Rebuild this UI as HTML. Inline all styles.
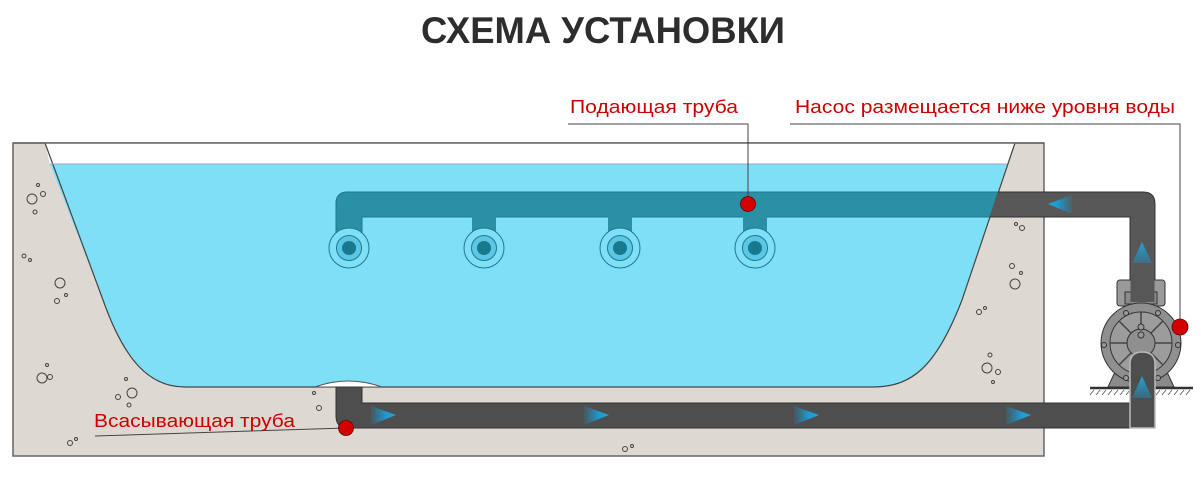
<!DOCTYPE html>
<html><head><meta charset="utf-8"><style>
html,body{margin:0;padding:0;background:#fff;}
svg{display:block;}
text{font-family:"Liberation Sans",sans-serif;}
</style></head><body>
<svg width="1201" height="479" viewBox="0 0 1201 479" xmlns="http://www.w3.org/2000/svg">
<defs>
<linearGradient id="ar" x1="0" x2="1" y1="0" y2="0"><stop offset="0" stop-color="#1e8fc0" stop-opacity="0.15"/><stop offset="0.6" stop-color="#1e9ad0"/><stop offset="1" stop-color="#22a6dc"/></linearGradient>
<linearGradient id="al" x1="1" x2="0" y1="0" y2="0"><stop offset="0" stop-color="#1e8fc0" stop-opacity="0.15"/><stop offset="0.6" stop-color="#1e9ad0"/><stop offset="1" stop-color="#22a6dc"/></linearGradient>
<linearGradient id="au" x1="0" x2="0" y1="1" y2="0"><stop offset="0" stop-color="#1e8fc0" stop-opacity="0.4"/><stop offset="1" stop-color="#22a6dc"/></linearGradient>
<clipPath id="wc"><path d="M50,164 L1007,164 L962,300 C935,370 910,387 872,387 L185,387 C150,387 125,362 103,300 Z"/></clipPath>
</defs>
<text x="603" y="43" font-size="37" font-weight="bold" fill="#2d2d2d" text-anchor="middle" textLength="364" lengthAdjust="spacingAndGlyphs">СХЕМА УСТАНОВКИ</text>

<rect x="13" y="143" width="1031" height="313" fill="#ddd9d2" stroke="#666" stroke-width="1.5"/>
<path d="M45,143 L1015,143 L1007,164 L50,164 Z" fill="#fff"/>
<path d="M50,164 L1007,164 L962,300 C935,370 910,387 872,387 L185,387 C150,387 125,362 103,300 Z" fill="#7fdff7"/>
<path d="M45,143 L103,300 C125,362 150,387 185,387 L872,387 C910,387 935,370 962,300 L1015,143" fill="none" stroke="#444" stroke-width="1.2"/>
<line x1="50" y1="164" x2="1007" y2="164" stroke="#9ab" stroke-width="1"/>
<line x1="13" y1="143" x2="1044" y2="143" stroke="#666" stroke-width="1.5"/>
<path d="M315,387 Q348,375 382,387 Z" fill="#fff" stroke="#555" stroke-width="1"/>

<g fill="none" stroke="#444" stroke-width="1">
<circle cx="32" cy="199" r="5"/><circle cx="43" cy="194" r="2.5"/><circle cx="38" cy="185" r="1.5"/><circle cx="35" cy="212" r="2"/>
<circle cx="24" cy="256" r="2"/><circle cx="30" cy="260" r="1.5"/>
<circle cx="60" cy="283" r="5"/><circle cx="57" cy="301" r="2.5"/><circle cx="66" cy="295" r="1.5"/>
<circle cx="42" cy="378" r="5"/><circle cx="50" cy="377" r="2.5"/><circle cx="47" cy="365" r="1.5"/>
<circle cx="132" cy="393" r="5"/><circle cx="118" cy="397" r="2.5"/><circle cx="129" cy="405" r="2"/><circle cx="126" cy="379" r="1.5"/>
<circle cx="70" cy="443" r="2.5"/><circle cx="76" cy="439" r="1.5"/>
<circle cx="319" cy="408" r="2.5"/><circle cx="314" cy="393" r="1.5"/>
<circle cx="1016" cy="224" r="1.5"/><circle cx="1022" cy="228" r="2.5"/>
<circle cx="1012" cy="266" r="2.5"/><circle cx="1021" cy="273" r="1.5"/><circle cx="1015" cy="284" r="5"/>
<circle cx="979" cy="312" r="2.5"/><circle cx="985" cy="308" r="1.5"/>
<circle cx="990" cy="355" r="2"/><circle cx="987" cy="368" r="5"/><circle cx="998" cy="372" r="2.5"/><circle cx="993" cy="382" r="1.5"/>
<circle cx="625" cy="449" r="2.5"/><circle cx="632" cy="446" r="1.5"/>
</g>

<g>
<path d="M336,225 L336,204 Q336,192 348,192 L1143,192 Q1155,192 1155,204 L1155,300 L1130,300 L1130,217 L362,217 L362,225 Z" fill="#575757" stroke="#333" stroke-width="1"/>
<rect x="472" y="215" width="24" height="15" fill="#575757"/>
<rect x="608" y="215" width="24" height="15" fill="#575757"/>
<rect x="743" y="215" width="24" height="15" fill="#575757"/>
<path d="M336,387 L362,387 L362,403 L1130,403 L1130,360 L1155,360 L1155,416 Q1155,428 1143,428 L348,428 Q336,428 336,416 Z" fill="#4e4e4e" stroke="#333" stroke-width="1"/>
</g>
<g clip-path="url(#wc)">
<path d="M336,240 L336,204 Q336,192 348,192 L1143,192 Q1155,192 1155,204 L1155,300 L1130,300 L1130,217 L362,217 L362,240 Z" fill="#2a90a6" stroke="#21798c" stroke-width="1"/>
<rect x="472" y="216" width="24" height="18" fill="#2a90a6"/>
<rect x="608" y="216" width="24" height="18" fill="#2a90a6"/>
<rect x="743" y="216" width="24" height="18" fill="#2a90a6"/>
</g>
<g>
<g transform="translate(349,248)"><circle r="20" fill="#7fdff7" stroke="#21798c"/><circle r="12.5" fill="#5cc7e4" stroke="#21798c"/><circle r="7" fill="#17788e"/></g>
<g transform="translate(484,248)"><circle r="20" fill="#7fdff7" stroke="#21798c"/><circle r="12.5" fill="#5cc7e4" stroke="#21798c"/><circle r="7" fill="#17788e"/></g>
<g transform="translate(620,248)"><circle r="20" fill="#7fdff7" stroke="#21798c"/><circle r="12.5" fill="#5cc7e4" stroke="#21798c"/><circle r="7" fill="#17788e"/></g>
<g transform="translate(755,248)"><circle r="20" fill="#7fdff7" stroke="#21798c"/><circle r="12.5" fill="#5cc7e4" stroke="#21798c"/><circle r="7" fill="#17788e"/></g>
</g>

<g stroke="#333" stroke-width="1">
<line x1="1090" y1="388" x2="1193" y2="388" stroke-width="2.5"/>
<g stroke-width="0.8" stroke="#555">
<path d="M1094,390l-4,5M1100,390l-4,5M1106,390l-4,5M1112,390l-4,5M1118,390l-4,5M1124,390l-4,5M1130,390l-4,5M1160,390l-4,5M1166,390l-4,5M1172,390l-4,5M1178,390l-4,5M1184,390l-4,5M1190,390l-4,5"/>
</g>
<path d="M1108,387 L1114,374 L1168,374 L1174,387 Z" fill="#8a8a8a"/>
<rect x="1117" y="280" width="48" height="26" rx="3" fill="#9a9a9a"/>
<rect x="1125" y="292" width="32" height="12" fill="#8a8a8a"/>
<circle cx="1141" cy="343" r="40" fill="#8f8f8f"/>
<circle cx="1141" cy="343" r="31" fill="#9c9c9c"/>
<path d="M1141,312 L1141,374 M1110,343 L1172,343 M1119,321 L1163,365 M1163,321 L1119,365" stroke="#444" stroke-width="1.5"/>
<circle cx="1141" cy="343" r="14" fill="#8f8f8f"/>
<circle cx="1141" cy="327" r="3" fill="#999"/><circle cx="1141" cy="335" r="3" fill="#999"/>
<circle cx="1104" cy="345" r="2.5" fill="#999"/><circle cx="1178" cy="345" r="2.5" fill="#999"/>
<circle cx="1126" cy="313" r="2.5" fill="#999"/><circle cx="1158" cy="313" r="2.5" fill="#999"/>
<circle cx="1126" cy="378" r="2.5" fill="#999"/><circle cx="1158" cy="378" r="2.5" fill="#999"/>
</g>
<path d="M1130,428 L1130,364 Q1130,352 1142,352 Q1155,352 1155,364 L1155,428 Z" fill="#4e4e4e" stroke="#bbb" stroke-width="1.5"/>
<rect x="1130.5" y="270" width="24" height="32" fill="#575757"/>

<g>
<path d="M371,406 L396,415 L371,425 Z" fill="url(#ar)"/>
<path d="M584,406 L609,415 L584,425 Z" fill="url(#ar)"/>
<path d="M794,406 L819,415 L794,425 Z" fill="url(#ar)"/>
<path d="M1006,406 L1031,415 L1006,425 Z" fill="url(#ar)"/>
<path d="M1072,195 L1048,204 L1072,214 Z" fill="url(#al)"/>
<path d="M1132,263 L1142,242 L1152,263 Z" fill="url(#au)"/>
<path d="M1132,398 L1142,376 L1152,398 Z" fill="url(#au)"/>
</g>

<g stroke="#444" stroke-width="1" fill="none">
<path d="M568,124 L748,124 L748,204"/>
<path d="M790,124 L1180,124 L1180,327"/>
<path d="M95,436 L346,428"/>
</g>
<circle cx="748" cy="204" r="7.5" fill="#d40000" stroke="#600" stroke-width="0.8"/>
<circle cx="1180" cy="327" r="8" fill="#d40000" stroke="#600" stroke-width="0.8"/>
<circle cx="346" cy="428" r="7.5" fill="#d40000" stroke="#600" stroke-width="0.8"/>

<text x="570" y="113" font-size="18" fill="#cc0000" textLength="168" lengthAdjust="spacingAndGlyphs">Подающая труба</text>
<text x="795" y="113" font-size="18" fill="#cc0000" textLength="380" lengthAdjust="spacingAndGlyphs">Насос размещается ниже уровня воды</text>
<text x="94" y="427" font-size="18" fill="#cc0000" textLength="201" lengthAdjust="spacingAndGlyphs">Всасывающая труба</text>
</svg>
</body></html>
